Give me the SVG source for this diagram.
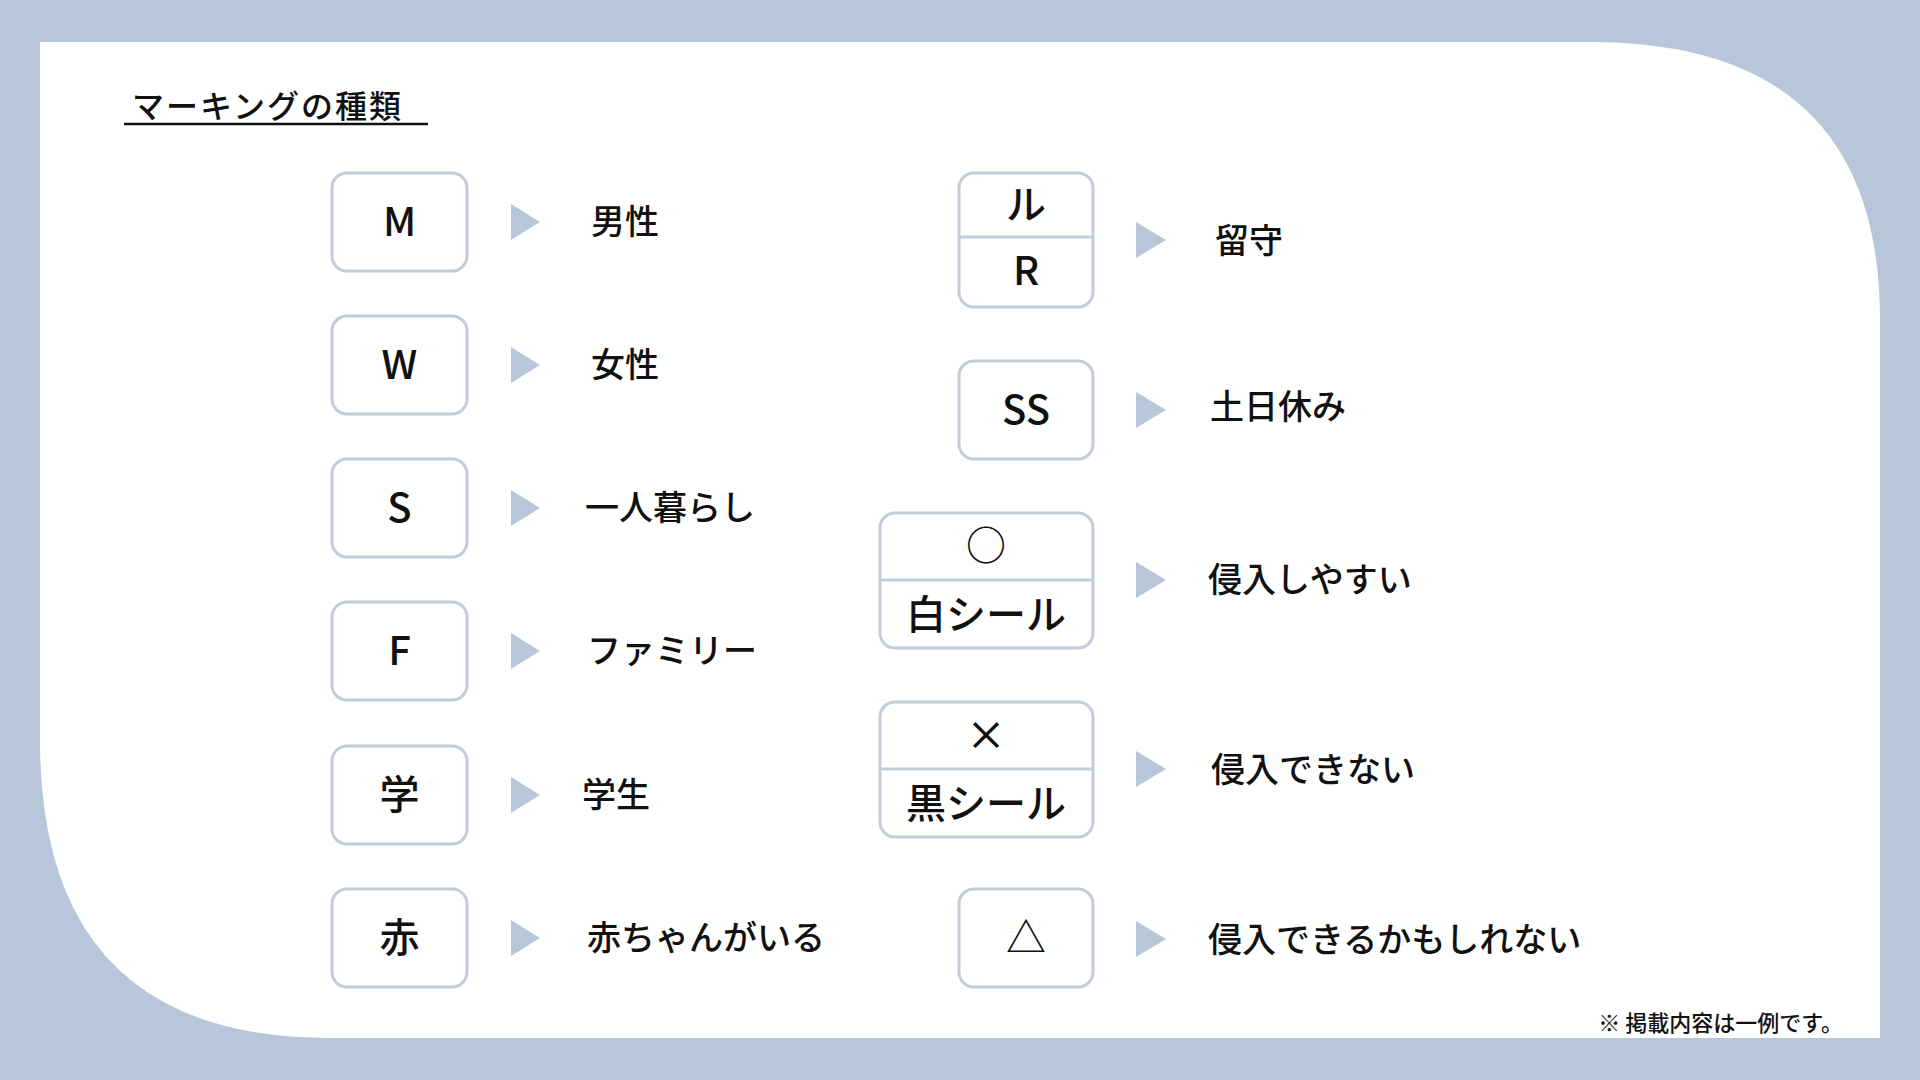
<svg xmlns="http://www.w3.org/2000/svg" width="1920" height="1080" viewBox="0 0 1920 1080">
<style>
.t{font-family:"Noto Sans CJK JP","Noto Sans",sans-serif;fill:#111;font-weight:500}
.box{fill:#fff;stroke:#c3ccd9;stroke-width:3}
.k{font-size:40px;text-anchor:middle;dominant-baseline:central}
.lb{font-size:34px;dominant-baseline:central}
.ar{fill:#b8c6d9}
.dv{stroke:#c3ccd9;stroke-width:3}
</style>
<rect width="1920" height="1080" fill="#b8c6d9"/>
<path d="M40 42 H1590 Q1880 42 1880 320 V1038 H330 Q40 1038 40 740 Z" fill="#fff"/>
<text class="t" x="132" y="118" font-size="32" letter-spacing="2">マーキングの種類</text>
<line x1="124" y1="124" x2="428" y2="124" stroke="#111" stroke-width="2.5"/>
<g id="nM"><rect class="box" x="332" y="173" width="135" height="98" rx="15"/><text class="t k" x="399.5" y="219">M</text></g>
<g id="nW"><rect class="box" x="332" y="316" width="135" height="98" rx="15"/><text class="t k" x="399.5" y="362">W</text></g>
<g id="nS"><rect class="box" x="332" y="459" width="135" height="98" rx="15"/><text class="t k" x="399.5" y="505">S</text></g>
<g id="nF"><rect class="box" x="332" y="602" width="135" height="98" rx="15"/><text class="t k" x="399.5" y="648">F</text></g>
<g id="nGaku"><rect class="box" x="332" y="746" width="135" height="98" rx="15"/><text class="t k" x="399.5" y="792">学</text></g>
<g id="nAka"><rect class="box" x="332" y="889" width="135" height="98" rx="15"/><text class="t k" x="399.5" y="935">赤</text></g>
<g id="nR"><rect class="box" x="959" y="173" width="134" height="134" rx="15"/><line class="dv" x1="959" y1="237" x2="1093" y2="237"/><text class="t k" x="1026" y="202">ル</text><text class="t k" x="1026" y="268">R</text></g>
<g id="nSS"><rect class="box" x="959" y="361" width="134" height="98" rx="15"/><text class="t k" x="1026" y="407">SS</text></g>
<g id="nO"><rect class="box" x="880" y="513" width="213" height="135" rx="15"/><line class="dv" x1="880" y1="580" x2="1093" y2="580"/><text class="t k" x="986" y="543" font-weight="700" font-size="38">○</text><text class="t k" x="986" y="612">白シール</text></g>
<g id="nX"><rect class="box" x="880" y="702" width="213" height="135" rx="15"/><line class="dv" x1="880" y1="769" x2="1093" y2="769"/><text class="t k" x="986" y="733" font-size="26">×</text><text class="t k" x="986" y="801">黒シール</text></g>
<g id="nTri"><rect class="box" x="959" y="889" width="134" height="98" rx="15"/><text class="t k" x="1026" y="935">△</text></g>
<g id="connectors">
<polygon class="ar" points="511,204 540,222 511,240"/>
<polygon class="ar" points="511,347 540,365 511,383"/>
<polygon class="ar" points="511,490 540,508 511,526"/>
<polygon class="ar" points="511,633 540,651 511,669"/>
<polygon class="ar" points="511,777 540,795 511,813"/>
<polygon class="ar" points="511,920 540,938 511,956"/>
<polygon class="ar" points="1136,222 1166,240 1136,258"/>
<polygon class="ar" points="1136,392 1166,410 1136,428"/>
<polygon class="ar" points="1136,562 1166,580 1136,598"/>
<polygon class="ar" points="1136,751 1166,769 1136,787"/>
<polygon class="ar" points="1136,921 1166,939 1136,957"/>
</g>
<g id="labels">
<text class="t lb" x="591" y="219">男性</text>
<text class="t lb" x="591" y="362">女性</text>
<text class="t lb" x="585" y="505">一人暮らし</text>
<text class="t lb" x="587" y="648">ファミリー</text>
<text class="t lb" x="582" y="792">学生</text>
<text class="t lb" x="587" y="935">赤ちゃんがいる</text>
<text class="t lb" x="1215" y="238">留守</text>
<text class="t lb" x="1210" y="404">土日休み</text>
<text class="t lb" x="1208" y="577">侵入しやすい</text>
<text class="t lb" x="1211" y="767">侵入できない</text>
<text class="t lb" x="1208" y="937">侵入できるかもしれない</text>
</g>
<text class="t" x="1843" y="1031" font-size="22" text-anchor="end">※ 掲載内容は一例です。</text>
</svg>
